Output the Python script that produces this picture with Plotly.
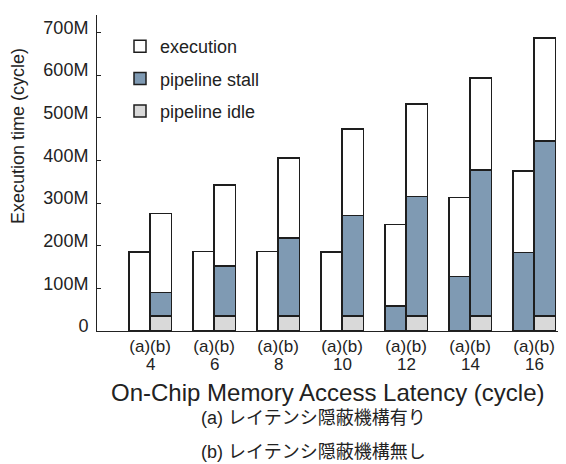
import plotly.graph_objects as go

latency = ["4", "6", "8", "10", "12", "14", "16"]
# values in millions of cycles
idle_a = [0, 0, 0, 0, 0, 0, 0]
idle_b = [35, 35, 35, 35, 35, 35, 35]
stall_a = [0, 0, 0, 0, 59, 128, 184]
stall_b = [55, 118, 183, 236, 280, 342, 411]
exec_a = [185, 186, 186, 185, 191, 185, 191]
exec_b = [186, 189, 188, 203, 217, 216, 241]
y_ticks = [0, 100, 200, 300, 400, 500, 600, 700]
y_tick_text = ["0", "100M", "200M", "300M", "400M", "500M", "600M", "700M"]

off = 0.166
bw = 0.332
n = len(latency)
xs = [i - off for i in range(n)] + [i + off for i in range(n)]

FONT = "Liberation Sans, Arial, Noto Sans CJK JP"
line = dict(color="#1e1e1e", width=1.5)

fig = go.Figure()
fig.add_trace(go.Bar(x=xs, y=idle_a + idle_b, width=bw, name="pipeline idle",
                     marker=dict(color="#d9d9d9", line=line),
                     legendgroup="idle", legendrank=3))
fig.add_trace(go.Bar(x=xs, y=stall_a + stall_b, width=bw, name="pipeline stall",
                     marker=dict(color="#7f9ab3", line=line),
                     legendgroup="stall", legendrank=2))
fig.add_trace(go.Bar(x=xs, y=exec_a + exec_b, width=bw, name="execution",
                     marker=dict(color="#ffffff", line=line),
                     legendgroup="exec", legendrank=1))

# page body has an 8px offset; work in reference pixel coordinates minus 8
OFF = 8
W, H = 566 - OFF, 464 - OFF
L, R, T, B = 97 - OFF, 0, 15 - OFF, 464 - 331
pw, ph = W - L - R, H - T - B

def px_x(p):
    return (p - OFF - L) / pw

def px_y(p):
    return (H - B - (p - OFF)) / ph

x0 = -0.83
x1 = x0 + pw / 64.0

annotations = [
    dict(text="Execution time (cycle)", textangle=-90, showarrow=False,
         xref="paper", yref="paper", x=px_x(18), y=px_y(136),
         xanchor="center", yanchor="middle", font=dict(size=18)),
    dict(text="On-Chip Memory Access Latency (cycle)", showarrow=False,
         xref="paper", yref="paper", x=px_x(327), y=px_y(392),
         xanchor="center", yanchor="middle", font=dict(size=24)),
    dict(text="(a) レイテンシ隠蔽機構有り", showarrow=False,
         xref="paper", yref="paper", x=px_x(313), y=px_y(418),
         xanchor="center", yanchor="middle", font=dict(size=18)),
    dict(text="(b) レイテンシ隠蔽機構無し", showarrow=False,
         xref="paper", yref="paper", x=px_x(313), y=px_y(452),
         xanchor="center", yanchor="middle", font=dict(size=18)),
]
for i, s in enumerate(latency):
    annotations.append(dict(text=s, showarrow=False, xref="x", yref="paper",
                            x=i, y=px_y(364), xanchor="center", yanchor="middle",
                            font=dict(size=17)))

fig.update_layout(
    width=W, height=H,
    margin=dict(l=L, r=R, t=T, b=B, pad=0),
    barmode="stack",
    plot_bgcolor="white", paper_bgcolor="white",
    font=dict(family=FONT, size=17, color="#222222"),
    showlegend=True,
    legend=dict(x=px_x(120), y=px_y(28), xanchor="left", yanchor="top",
                traceorder="grouped", tracegroupgap=6,
                font=dict(size=18), bgcolor="rgba(0,0,0,0)"),
    xaxis=dict(range=[x0, x1], tickvals=list(range(n)),
               ticktext=["(a)(b)"] * n,
               showline=True, linecolor="#222222", linewidth=1,
               ticks="", showgrid=False, zeroline=False,
               tickfont=dict(size=17), automargin=False),
    yaxis=dict(range=[0, 741], tickvals=y_ticks, ticktext=y_tick_text,
               showline=True, linecolor="#222222", linewidth=1,
               ticks="inside", ticklen=4, tickcolor="#222222",
               showgrid=False, zeroline=False, tickfont=dict(size=18),
               ticklabelshift=-5, ticklabelstandoff=4, automargin=False),
    annotations=annotations,
)

fig.write_html("out.html")
